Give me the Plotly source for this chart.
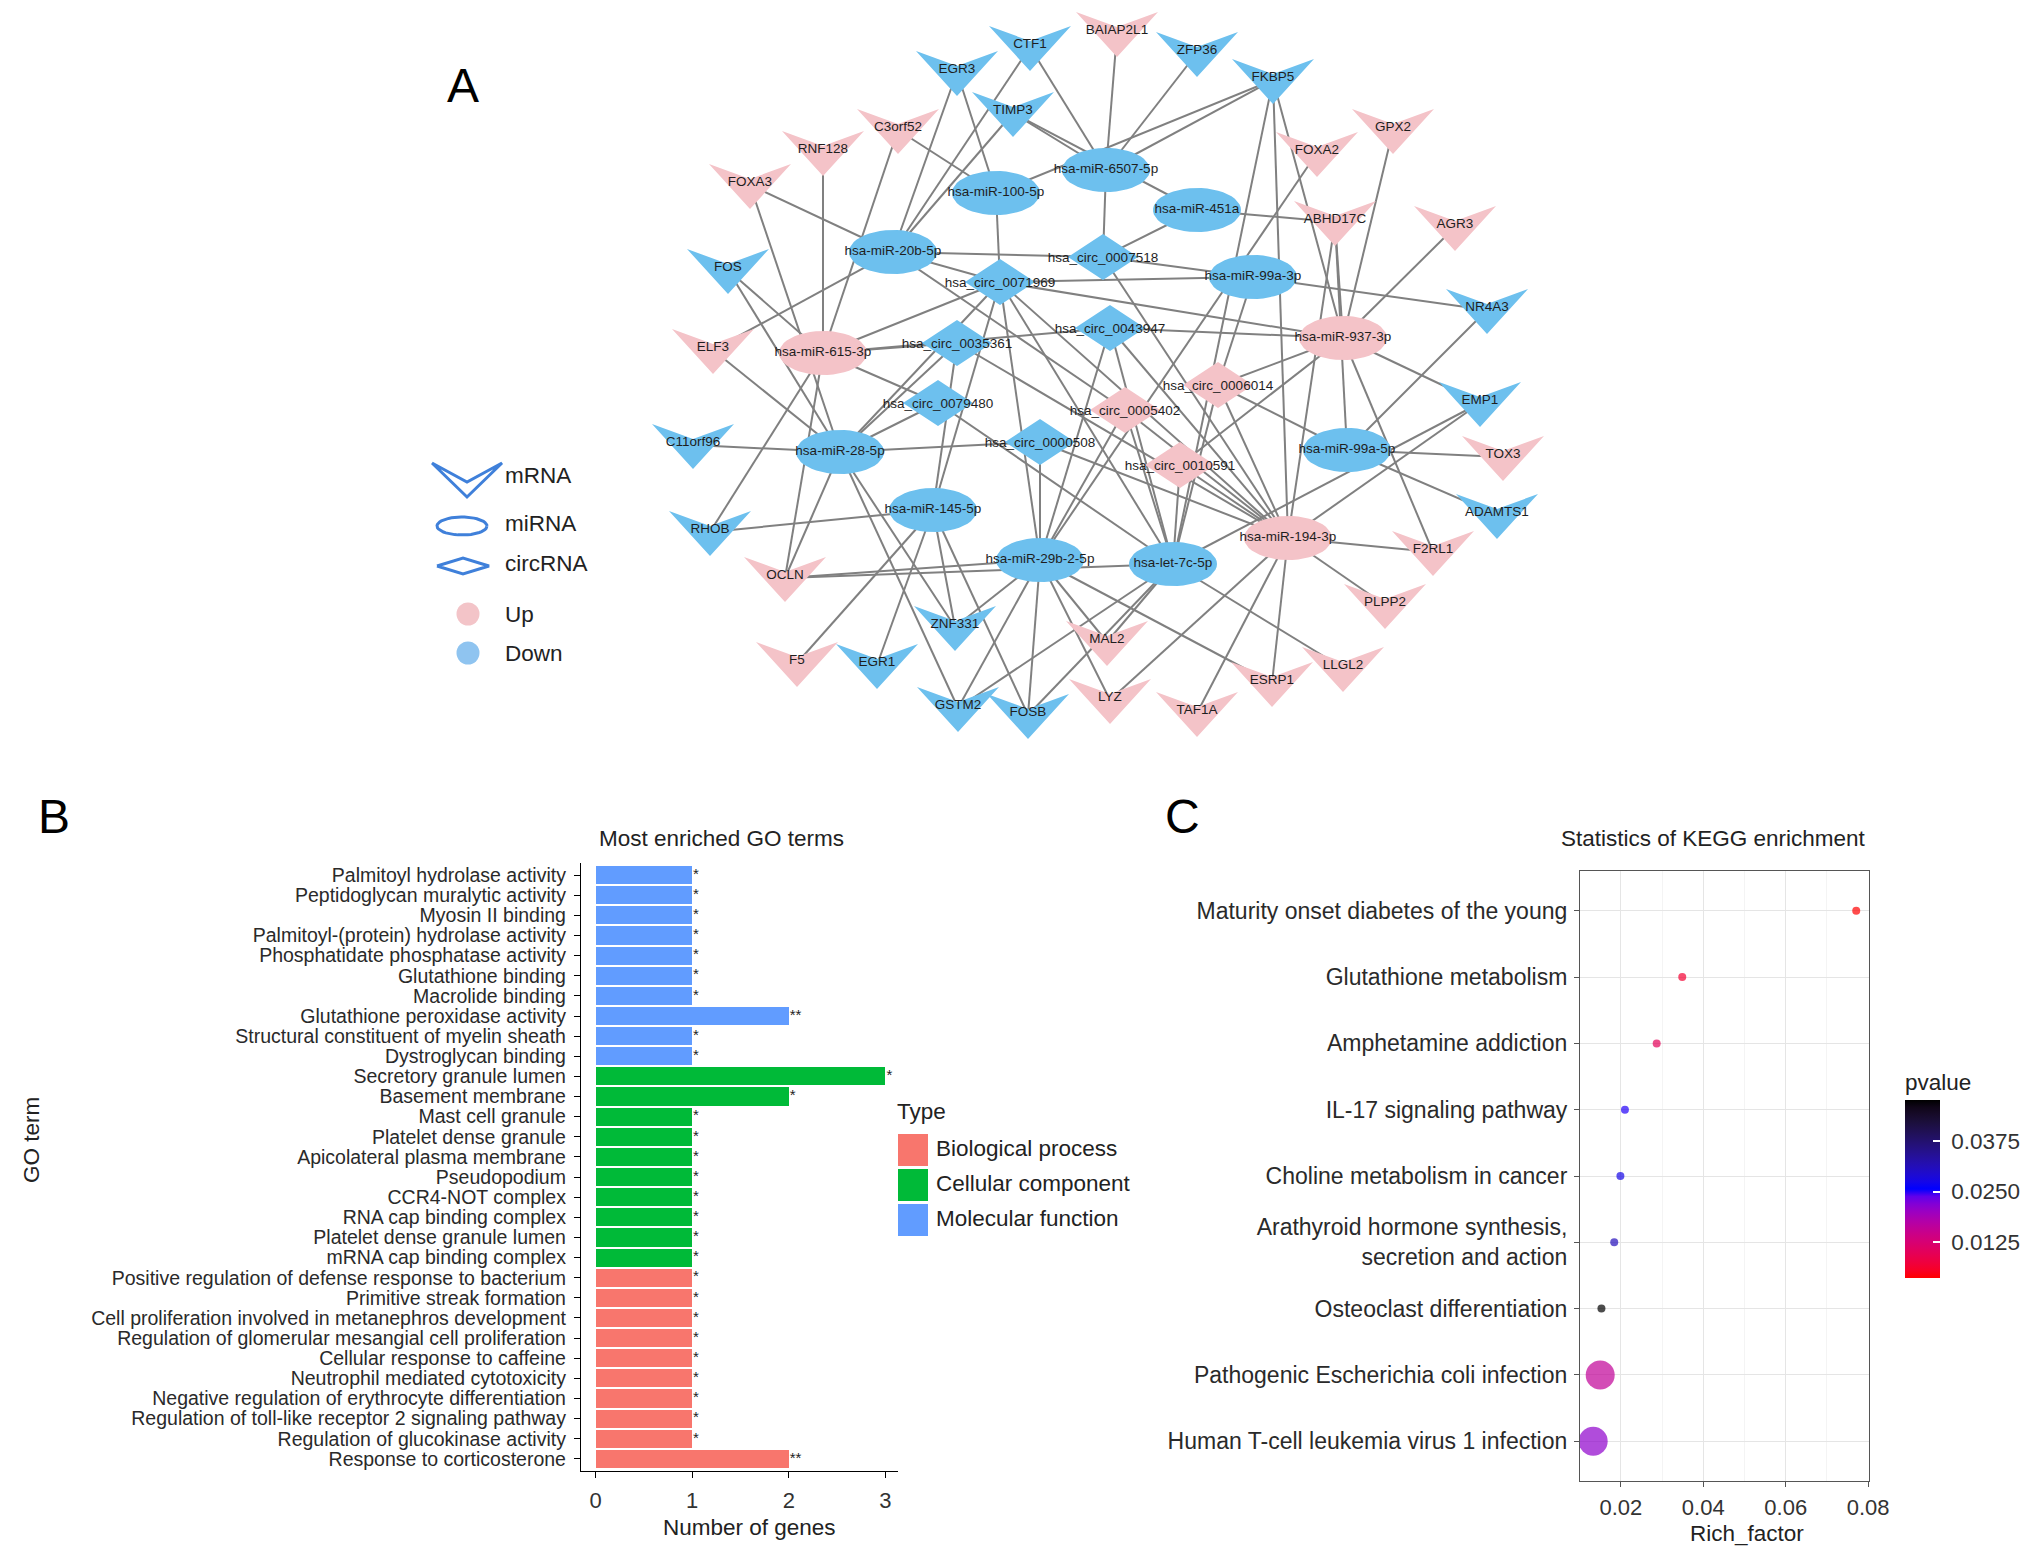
import numpy as np
import plotly.graph_objects as go

W, H = 2032, 1557
FONT = "Arial, Liberation Sans, Helvetica, sans-serif"

# ---------------- Panel A: ceRNA network data ----------------
mrna_names = ["CTF1", "BAIAP2L1", "ZFP36", "EGR3", "FKBP5", "TIMP3", "C3orf52", "GPX2", "RNF128", "FOXA2",
              "FOXA3", "ABHD17C", "AGR3", "FOS", "NR4A3", "ELF3", "EMP1", "C11orf96", "TOX3", "ADAMTS1",
              "RHOB", "F2RL1", "OCLN", "PLPP2", "ZNF331", "MAL2", "F5", "EGR1", "LLGL2", "ESRP1",
              "LYZ", "GSTM2", "TAF1A", "FOSB"]
mrna_x = [1030, 1117, 1197, 957, 1273, 1013, 898, 1393, 823, 1317,
          750, 1335, 1455, 728, 1487, 713, 1480, 693, 1503, 1497,
          710, 1433, 785, 1385, 955, 1107, 797, 877, 1343, 1272,
          1110, 958, 1197, 1028]
mrna_y = [47, 33, 53, 72, 80, 113, 130, 130, 152, 153,
          185, 222, 227, 270, 310, 350, 403, 445, 457, 515,
          532, 552, 578, 605, 627, 642, 663, 665, 668, 683,
          700, 708, 713, 715]
mrna_reg = ["Down", "Up", "Down", "Down", "Down", "Down", "Up", "Up", "Up", "Up",
            "Up", "Up", "Up", "Down", "Down", "Up", "Down", "Down", "Up", "Down",
            "Down", "Up", "Up", "Up", "Down", "Up", "Up", "Down", "Up", "Up",
            "Up", "Down", "Up", "Down"]

mirna_names = ["hsa-miR-6507-5p", "hsa-miR-100-5p", "hsa-miR-451a", "hsa-miR-20b-5p", "hsa-miR-99a-3p",
               "hsa-miR-937-3p", "hsa-miR-615-3p", "hsa-miR-28-5p", "hsa-miR-99a-5p", "hsa-miR-145-5p",
               "hsa-miR-194-3p", "hsa-miR-29b-2-5p", "hsa-let-7c-5p"]
mirna_x = [1106, 996, 1197, 893, 1253, 1343, 823, 840, 1347, 933, 1288, 1040, 1173]
mirna_y = [170, 193, 210, 252, 277, 338, 353, 452, 450, 510, 538, 560, 564]
mirna_reg = ["Down", "Down", "Down", "Down", "Down", "Up", "Up", "Down", "Down", "Down", "Up", "Down", "Down"]

circ_names = ["hsa_circ_0007518", "hsa_circ_0071969", "hsa_circ_0043947", "hsa_circ_0035361", "hsa_circ_0006014",
              "hsa_circ_0079480", "hsa_circ_0005402", "hsa_circ_0000508", "hsa_circ_0010591"]
circ_x = [1103, 1000, 1110, 957, 1218, 938, 1125, 1040, 1180]
circ_y = [257, 282, 328, 343, 385, 403, 410, 442, 465]
circ_reg = ["Down", "Down", "Down", "Down", "Up", "Down", "Up", "Down", "Up"]

# partners of each miRNA (mRNAs and circRNAs)
mirna_partners = {
    "hsa-miR-6507-5p": ["CTF1", "BAIAP2L1", "ZFP36", "FKBP5", "TIMP3", "hsa_circ_0007518"],
    "hsa-miR-100-5p": ["EGR3", "FKBP5", "C3orf52", "hsa_circ_0071969"],
    "hsa-miR-451a": ["TIMP3", "ABHD17C", "hsa_circ_0007518"],
    "hsa-miR-20b-5p": ["CTF1", "EGR3", "TIMP3", "FOXA3", "ELF3", "hsa_circ_0071969", "hsa_circ_0007518",
                       "hsa_circ_0005402"],
    "hsa-miR-99a-3p": ["NR4A3", "hsa_circ_0071969", "hsa_circ_0007518", "hsa_circ_0006014"],
    "hsa-miR-937-3p": ["FKBP5", "GPX2", "ABHD17C", "AGR3", "EMP1", "F2RL1", "hsa_circ_0071969",
                       "hsa_circ_0043947", "hsa_circ_0006014", "hsa_circ_0010591"],
    "hsa-miR-615-3p": ["C3orf52", "RNF128", "FOS", "RHOB", "OCLN", "hsa_circ_0071969", "hsa_circ_0043947",
                       "hsa_circ_0035361", "hsa_circ_0079480"],
    "hsa-miR-28-5p": ["FOXA3", "FOS", "ELF3", "C11orf96", "OCLN", "ZNF331", "GSTM2", "hsa_circ_0071969",
                      "hsa_circ_0035361", "hsa_circ_0079480", "hsa_circ_0000508"],
    "hsa-miR-99a-5p": ["NR4A3", "TOX3", "ADAMTS1", "ABHD17C", "hsa_circ_0006014"],
    "hsa-miR-145-5p": ["RHOB", "ZNF331", "F5", "EGR1", "FOSB", "hsa_circ_0071969", "hsa_circ_0035361"],
    "hsa-miR-194-3p": ["FKBP5", "ABHD17C", "EMP1", "F2RL1", "PLPP2", "ESRP1", "LYZ", "TAF1A",
                       "hsa_circ_0071969", "hsa_circ_0007518", "hsa_circ_0043947", "hsa_circ_0035361",
                       "hsa_circ_0000508", "hsa_circ_0006014", "hsa_circ_0005402", "hsa_circ_0010591"],
    "hsa-miR-29b-2-5p": ["FOXA2", "OCLN", "ZNF331", "MAL2", "ESRP1", "LYZ", "GSTM2", "FOSB",
                         "hsa_circ_0071969", "hsa_circ_0043947", "hsa_circ_0000508", "hsa_circ_0005402"],
    "hsa-let-7c-5p": ["FKBP5", "EMP1", "OCLN", "MAL2", "LLGL2", "GSTM2", "FOSB", "hsa_circ_0071969",
                      "hsa_circ_0043947", "hsa_circ_0079480", "hsa_circ_0006014", "hsa_circ_0005402",
                      "hsa_circ_0010591"],
}

# ---------------- Panel B: GO data ----------------
go_terms = ["Palmitoyl hydrolase activity", "Peptidoglycan muralytic activity", "Myosin II binding",
            "Palmitoyl-(protein) hydrolase activity", "Phosphatidate phosphatase activity", "Glutathione binding",
            "Macrolide binding", "Glutathione peroxidase activity", "Structural constituent of myelin sheath",
            "Dystroglycan binding",
            "Secretory granule lumen", "Basement membrane", "Mast cell granule", "Platelet dense granule",
            "Apicolateral plasma membrane", "Pseudopodium", "CCR4-NOT complex", "RNA cap binding complex",
            "Platelet dense granule lumen", "mRNA cap binding complex",
            "Positive regulation of defense response to bacterium", "Primitive streak formation",
            "Cell proliferation involved in metanephros development",
            "Regulation of glomerular mesangial cell proliferation", "Cellular response to caffeine",
            "Neutrophil mediated cytotoxicity", "Negative regulation of erythrocyte differentiation",
            "Regulation of toll-like receptor 2 signaling pathway", "Regulation of glucokinase activity",
            "Response to corticosterone"]
go_type = ["Molecular function"] * 10 + ["Cellular component"] * 10 + ["Biological process"] * 10
go_count = [1, 1, 1, 1, 1, 1, 1, 2, 1, 1,
            3, 2, 1, 1, 1, 1, 1, 1, 1, 1,
            1, 1, 1, 1, 1, 1, 1, 1, 1, 2]
go_sig = ["*", "*", "*", "*", "*", "*", "*", "**", "*", "*",
          "*", "*", "*", "*", "*", "*", "*", "*", "*", "*",
          "*", "*", "*", "*", "*", "*", "*", "*", "*", "**"]
type_order = ["Biological process", "Cellular component", "Molecular function"]
type_colors = {"Biological process": "#F8766D", "Cellular component": "#00BA38", "Molecular function": "#619CFF"}

# ---------------- Panel C: KEGG data ----------------
kegg_terms = ["Maturity onset diabetes of the young", "Glutathione metabolism", "Amphetamine addiction",
              "IL-17 signaling pathway", "Choline metabolism in cancer",
              "Arathyroid hormone synthesis,<br>secretion and action", "Osteoclast differentiation",
              "Pathogenic Escherichia coli infection", "Human T-cell leukemia virus 1 infection"]
kegg_rich = [0.0771, 0.0349, 0.0287, 0.0210, 0.0199, 0.0184, 0.0153, 0.0150, 0.0133]
kegg_count = [2, 2, 2, 2, 2, 2, 2, 3, 3]
kegg_p = [0.0036, 0.0065, 0.0100, 0.0250, 0.0275, 0.0310, 0.0477, 0.0160, 0.0210]
pbar_ticks = [0.0125, 0.0250, 0.0375]

# ---------------- helpers ----------------
UP_COL, DOWN_COL = "#F4C3C8", "#6DC0EE"
reg_col = {"Up": UP_COL, "Down": DOWN_COL}
TXT = 22.5


def px_x(x):
    return x / W


def px_y(y):
    return 1 - y / H


def chevron(cx, cy, w=41, top=21, notch=6, bot=24):
    return [cx - w, cx, cx + w, cx, cx - w], [cy - top, cy - notch, cy - top, cy + bot, cy - top]


def ellipse(cx, cy, a=44, b=22, n=48):
    t = np.linspace(0, 2 * np.pi, n)
    return list(cx + a * np.cos(t)), list(cy + b * np.sin(t))


def diamond(cx, cy, a=35, b=23):
    return [cx - a, cx, cx + a, cx, cx - a], [cy, cy - b, cy, cy + b, cy]


def hex2rgb(h):
    h = h.lstrip("#")
    return [int(h[i:i + 2], 16) for i in (0, 2, 4)]


def rgb2lab(rgb):
    lin = []
    for c in rgb:
        c = c / 255
        lin.append(c / 12.92 if c <= 0.04045 else ((c + 0.055) / 1.055) ** 2.4)
    r, g, b = lin
    X = 0.4124564 * r + 0.3575761 * g + 0.1804375 * b
    Y = 0.2126729 * r + 0.7151522 * g + 0.0721750 * b
    Z = 0.0193339 * r + 0.1191920 * g + 0.9503041 * b
    f = lambda t: t ** (1 / 3) if t > 0.008856 else 7.787 * t + 16 / 116
    fx, fy, fz = f(X / 0.95047), f(Y), f(Z / 1.08883)
    return [116 * fy - 16, 500 * (fx - fy), 200 * (fy - fz)]


def lab2hex(L, a, b):
    fy = (L + 16) / 116
    fx = fy + a / 500
    fz = fy - b / 200
    finv = lambda t: t ** 3 if t ** 3 > 0.008856 else (t - 16 / 116) / 7.787
    X, Y, Z = 0.95047 * finv(fx), finv(fy), 1.08883 * finv(fz)
    lr = 3.2404542 * X - 1.5371385 * Y - 0.4985314 * Z
    lg = -0.9692660 * X + 1.8760108 * Y + 0.0415560 * Z
    lb = 0.0556434 * X - 0.2040259 * Y + 1.0572252 * Z
    out = []
    for c in (lr, lg, lb):
        c = 12.92 * c if c <= 0.0031308 else 1.055 * max(c, 0) ** (1 / 2.4) - 0.055
        out.append(int(round(min(max(c, 0), 1) * 255)))
    return "#%02x%02x%02x" % tuple(out)


def lab_scale(cols, n=24):
    labs = [rgb2lab(hex2rgb(c)) for c in cols]
    seg = len(cols) - 1
    scale = []
    for i in range(n + 1):
        t = i / n
        k = min(int(t * seg), seg - 1)
        u = t * seg - k
        L = [labs[k][j] + (labs[k + 1][j] - labs[k][j]) * u for j in range(3)]
        scale.append([t, lab2hex(*L)])
    return scale


fig = go.Figure()

# ---------------- Panel A drawing ----------------
pos = {}
for n, x, y in zip(mrna_names, mrna_x, mrna_y):
    pos[n] = (x, y)
for n, x, y in zip(mirna_names, mirna_x, mirna_y):
    pos[n] = (x, y)
for n, x, y in zip(circ_names, circ_x, circ_y):
    pos[n] = (x, y)

ex, ey = [], []
for mir, partners in mirna_partners.items():
    for p in partners:
        ex += [pos[mir][0], pos[p][0], None]
        ey += [pos[mir][1], pos[p][1], None]
fig.add_trace(go.Scatter(x=ex, y=ey, mode="lines", line=dict(color="#808080", width=2),
                         xaxis="x3", yaxis="y3", hoverinfo="skip", showlegend=False))

groups = [(mrna_names, mrna_x, mrna_y, mrna_reg, chevron),
          (mirna_names, mirna_x, mirna_y, mirna_reg, ellipse),
          (circ_names, circ_x, circ_y, circ_reg, diamond)]
for names, xs, ys, regs, shp in groups:
    for reg in ["Up", "Down"]:
        px_, py_ = [], []
        for n, x, y, r in zip(names, xs, ys, regs):
            if r != reg:
                continue
            sx, sy = shp(x, y)
            px_ += sx + [None]
            py_ += sy + [None]
        if px_:
            fig.add_trace(go.Scatter(x=px_, y=py_, mode="lines", fill="toself", fillcolor=reg_col[reg],
                                     line=dict(width=0, color=reg_col[reg]), xaxis="x3", yaxis="y3",
                                     hoverinfo="skip", showlegend=False))

lab_x = mrna_x + mirna_x + circ_x
lab_y = [y - 2 for y in mrna_y] + mirna_y + [y + 2 for y in circ_y]
fig.add_trace(go.Scatter(x=lab_x, y=lab_y, text=mrna_names + mirna_names + circ_names, mode="text",
                         textfont=dict(family=FONT, size=13.5, color="#1e1e1e"), textposition="middle center",
                         xaxis="x3", yaxis="y3", hoverinfo="skip", showlegend=False))

# legend of panel A
LEG_BLUE = "#3F80DA"
sx, sy = chevron(467, 480, w=35, top=17, notch=-2, bot=17)
fig.add_trace(go.Scatter(x=sx, y=sy, mode="lines", line=dict(color=LEG_BLUE, width=3),
                         xaxis="x3", yaxis="y3", hoverinfo="skip", showlegend=False))
sx, sy = ellipse(462, 526, a=25, b=9)
fig.add_trace(go.Scatter(x=sx, y=sy, mode="lines", line=dict(color=LEG_BLUE, width=3),
                         xaxis="x3", yaxis="y3", hoverinfo="skip", showlegend=False))
sx, sy = diamond(463, 566, a=26, b=8)
fig.add_trace(go.Scatter(x=sx, y=sy, mode="lines", line=dict(color=LEG_BLUE, width=3),
                         xaxis="x3", yaxis="y3", hoverinfo="skip", showlegend=False))
fig.add_trace(go.Scatter(x=[468, 468], y=[614, 653], mode="markers",
                         marker=dict(size=23, color=["#F3C4C8", "#8FC4F0"]),
                         xaxis="x3", yaxis="y3", hoverinfo="skip", showlegend=False))
fig.add_trace(go.Scatter(x=[505] * 5, y=[477, 525, 565, 616, 655],
                         text=["mRNA", "miRNA", "circRNA", "Up", "Down"], mode="text", textposition="middle right",
                         textfont=dict(family=FONT, size=TXT, color="#222222"),
                         xaxis="x3", yaxis="y3", hoverinfo="skip", showlegend=False))

# ---------------- Panel B drawing ----------------
for t in type_order:
    idx = [i for i, tt in enumerate(go_type) if tt == t]
    fig.add_trace(go.Bar(x=[go_count[i] for i in idx], y=[go_terms[i] for i in idx], orientation="h",
                         marker=dict(color=type_colors[t], line=dict(width=0)), width=0.9,
                         xaxis="x", yaxis="y", showlegend=False, name=t))
fig.add_trace(go.Scatter(x=[c + 0.01 for c in go_count], y=go_terms, text=go_sig, mode="text",
                         textposition="middle right", textfont=dict(family=FONT, size=15, color="#222222"),
                         xaxis="x", yaxis="y", showlegend=False, hoverinfo="skip"))

# manual legend (ggplot style)
shapes = []
for i, t in enumerate(type_order):
    yc = 1150 + 35 * i
    shapes.append(dict(type="rect", xref="x3", yref="y3", x0=898, x1=928, y0=yc - 16, y1=yc + 16,
                       fillcolor=type_colors[t], line=dict(width=0), layer="above"))
fig.add_trace(go.Scatter(x=[936] * 3, y=[1150, 1185, 1220], text=type_order, mode="text",
                         textposition="middle right", textfont=dict(family=FONT, size=TXT, color="#222222"),
                         xaxis="x3", yaxis="y3", hoverinfo="skip", showlegend=False))

# ---------------- Panel C drawing ----------------
size_map = {2: 8, 3: 29}
fig.add_trace(go.Scatter(
    x=kegg_rich, y=kegg_terms, mode="markers", xaxis="x2", yaxis="y2", showlegend=False,
    marker=dict(size=[size_map[c] for c in kegg_count], color=kegg_p, cmin=0.0036, cmax=0.0477,
                colorscale=lab_scale(["#FF0000", "#0000FF", "#000000"]), line=dict(width=0),
                colorbar=dict(title=dict(text="pvalue", side="top", font=dict(family=FONT, size=TXT, color="#222")),
                              x=1905 / W, xanchor="left", xpad=0, y=1 - 1174 / H, yanchor="middle", ypad=0,
                              len=208, lenmode="pixels", thickness=35, thicknessmode="pixels",
                              tickvals=pbar_ticks, ticktext=["\u00a0%.4f" % v for v in pbar_ticks],
                              ticks="inside", tickcolor="white", ticklen=7, tickwidth=1.5,
                              outlinewidth=0, tickfont=dict(family=FONT, size=TXT, color="#333"))),
))

# ---------------- annotations ----------------
ann = []


def add_text(txt, x, y, size, xanchor="center", angle=0, color="#222222"):
    ann.append(dict(text=txt, x=px_x(x), y=px_y(y), xref="paper", yref="paper", showarrow=False,
                    xanchor=xanchor, yanchor="middle", textangle=angle,
                    font=dict(family=FONT, size=size, color=color)))


add_text("A", 463, 86, 48, color="#000")
add_text("B", 54, 816, 48, color="#000")
add_text("C", 1182, 816, 48, color="#000")
add_text("Most enriched GO terms", 597, 838, TXT, xanchor="left")
add_text("Number of genes", 749, 1527, TXT)
add_text("GO term", 31, 1140, TXT, angle=-90)
add_text("Statistics of KEGG enrichment", 1713, 838, TXT)
add_text("Rich_factor", 1747, 1533, TXT)
add_text("Type", 895, 1111, TXT, xanchor="left")

axis_font = dict(family=FONT, size=22, color="#333333")
fig.update_layout(
    width=W, height=H, autosize=False, margin=dict(l=0, r=0, t=0, b=0, pad=0, autoexpand=False),
    paper_bgcolor="white", plot_bgcolor="rgba(0,0,0,0)", showlegend=False,
    annotations=ann, shapes=shapes, bargap=0,
    xaxis=dict(domain=[581 / W, 898 / W], anchor="y", range=[-0.15, 3.13], tickvals=[0, 1, 2, 3],
               showline=True, linecolor="black", linewidth=1.3, ticks="outside", ticklen=6, tickcolor="black",
               showgrid=False, zeroline=False, tickfont=axis_font, ticklabelstandoff=3),
    yaxis=dict(domain=[px_y(1471), px_y(863)], anchor="x", type="category", categoryorder="array",
               categoryarray=go_terms, tickmode="array", tickvals=go_terms, ticktext=go_terms,
               range=[29.6, -0.6], showline=True, linecolor="black", linewidth=1.3,
               ticks="outside", ticklen=6, tickcolor="black", showgrid=False, zeroline=False,
               tickfont=dict(family=FONT, size=19.5, color="#2a2a2a"), ticklabelstandoff=4),
    xaxis2=dict(domain=[1580 / W, 1869 / W], anchor="y2", range=[0.0101, 0.0802], dtick=0.02, tick0=0,
                tickformat=".2f", showgrid=True, gridcolor="#E5E5E5", gridwidth=1.2,
                minor=dict(dtick=0.01, tick0=0, showgrid=True, gridcolor="#F4F4F4", gridwidth=0.8),
                showline=True, mirror=True, linecolor="#555555", linewidth=1.2, ticks="outside", ticklen=5,
                tickcolor="#555555", zeroline=False, tickfont=axis_font, ticklabelstandoff=1),
    yaxis2=dict(domain=[px_y(1481), px_y(871)], anchor="x2", type="category", categoryorder="array",
                categoryarray=kegg_terms, tickmode="array", tickvals=kegg_terms, ticktext=kegg_terms,
                range=[8.6, -0.6], showgrid=True, gridcolor="#E5E5E5", gridwidth=1.2,
                showline=True, mirror=True, linecolor="#555555", linewidth=1.2, ticks="outside", ticklen=5,
                tickcolor="#555555", zeroline=False, tickfont=dict(family=FONT, size=23, color="#2a2a2a"),
                ticklabelstandoff=2),
    xaxis3=dict(domain=[0, 1], anchor="y3", range=[0, W], visible=False, fixedrange=True),
    yaxis3=dict(domain=[0, 1], anchor="x3", range=[H, 0], visible=False, fixedrange=True),
)

fig.write_html("out.html", config={"displayModeBar": False},
               post_script="document.body.style.margin='0px';document.body.style.overflow='hidden';")
